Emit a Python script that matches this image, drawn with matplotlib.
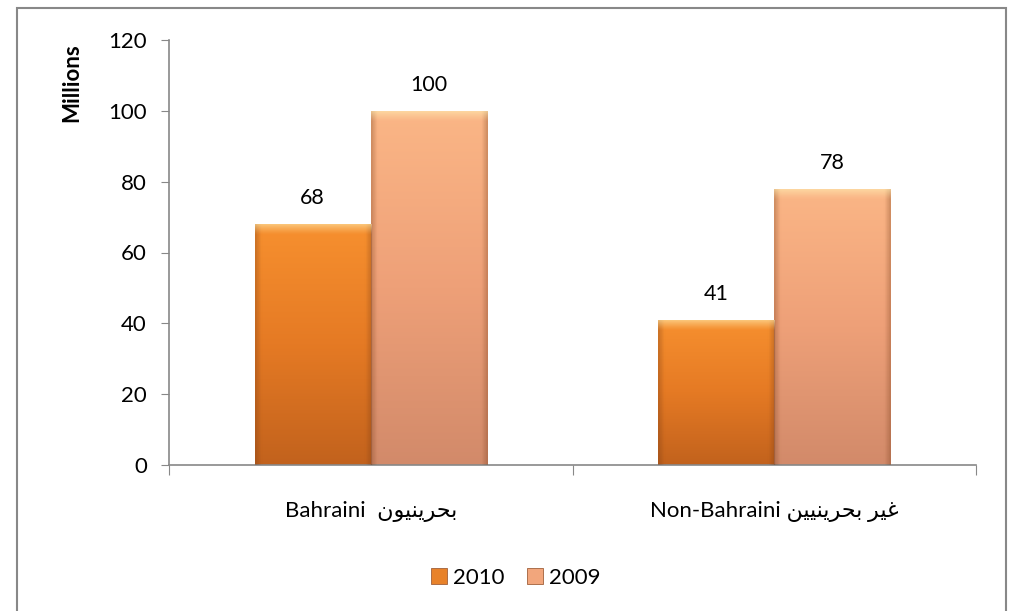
import numpy as np
import matplotlib.pyplot as plt
from matplotlib.patches import Rectangle
from matplotlib.colors import LinearSegmentedColormap

categories_en = ['Bahraini ', 'Non-Bahraini']
categories_ar = ['بحرينيون', 'غير بحرينيين']
years = ['2010', '2009']
values_2010 = [68, 41]
values_2009 = [100, 78]
yticks = [0, 20, 40, 60, 80, 100, 120]

# isolated, final, initial, medial presentation forms
FORMS = {
    'ب': ('\uFE8F', '\uFE90', '\uFE91', '\uFE92'),
    'ح': ('\uFEA1', '\uFEA2', '\uFEA3', '\uFEA4'),
    'ر': ('\uFEAD', '\uFEAE', None, None),
    'ي': ('\uFEF1', '\uFEF2', '\uFEF3', '\uFEF4'),
    'ن': ('\uFEE5', '\uFEE6', '\uFEE7', '\uFEE8'),
    'و': ('\uFEED', '\uFEEE', None, None),
    'غ': ('\uFECD', '\uFECE', '\uFECF', '\uFED0'),
}


def joins_left(c):
    return c in FORMS and FORMS[c][2] is not None


def shape(word):
    # tiny arabic shaper for the letters used here, returns visual (LTR) order
    out = []
    for i, c in enumerate(word):
        if c not in FORMS:
            out.append(c)
            continue
        prev = word[i - 1] if i > 0 else ' '
        nxt = word[i + 1] if i + 1 < len(word) else ' '
        r = joins_left(prev)
        l = joins_left(c) and nxt in FORMS
        if r and l:
            out.append(FORMS[c][3])
        elif r:
            out.append(FORMS[c][1])
        elif l:
            out.append(FORMS[c][2])
        else:
            out.append(FORMS[c][0])
    return ''.join(reversed(out))


fam = ['Lato', 'DejaVu Sans']
plt.rcParams['font.family'] = fam

fig = plt.figure(figsize=(10.22, 6.11), dpi=100)
ax = fig.add_axes([169 / 1022, 1 - 465 / 611, 807 / 1022, 425 / 611])

x = np.arange(len(categories_en))
w = 0.288
grad_2010 = LinearSegmentedColormap.from_list('g10', ['#c2621d', '#e57a24', '#f7902f'])
grad_2009 = LinearSegmentedColormap.from_list('g09', ['#d28a6a', '#eea078', '#fbb686'])

gy = np.linspace(0, 1, 256).reshape(-1, 1)
hl = np.zeros((32, 1, 4))
hl[..., :3] = [1.0, 0.95, 0.72]
hl[:, 0, 3] = np.linspace(0, 0.7, 32) ** 1.3

# darker sides to hint at the bevel
side = np.zeros((1, 64, 4))
side[..., :3] = [0.45, 0.22, 0.08]
edge = np.abs(np.linspace(-1, 1, 64))
side[0, :, 3] = np.clip((edge - 0.9) * 3.0, 0, 0.3)

for vals, off, cmap, col, yr in [(values_2010, -w / 2, grad_2010, '#e8822a', years[0]),
                                 (values_2009, w / 2, grad_2009, '#f2a67c', years[1])]:
    bars = ax.bar(x + off, vals, w, color=col, edgecolor='#a0603a', linewidth=0.6, label=yr, zorder=2)
    for b, v in zip(bars, vals):
        x0 = b.get_x()
        im = ax.imshow(gy, cmap=cmap, extent=(x0, x0 + w, 0, v), origin='lower',
                       aspect='auto', zorder=2.5)
        im.set_clip_path(b)
        ax.imshow(side, extent=(x0, x0 + w, 0, v), origin='lower', aspect='auto',
                  zorder=2.7).set_clip_path(b)
        # bevel highlight on top
        ax.imshow(hl, extent=(x0, x0 + w, v - 3.2, v), origin='lower', aspect='auto',
                  zorder=3).set_clip_path(b)
        ax.text(x0 + w / 2, v + 4.5, str(v), ha='center', va='bottom', fontsize=15.5, color='black')

ax.set_xlim(-0.5, 1.5)
ax.set_ylim(0, 120)
ax.set_yticks(yticks)
ax.tick_params(axis='y', direction='out', length=6, color='#888888', labelsize=16, pad=10)
ax.set_xticks([-0.5, 0.5, 1.5])
ax.set_xticklabels([])
ax.tick_params(axis='x', which='major', direction='out', length=7, color='#888888')
ax.set_xticks(x, minor=True)
ax.set_xticklabels([categories_en[0] + ' ' + shape(categories_ar[0]),
                    categories_en[1] + ' ' + shape(categories_ar[1])], minor=True)
ax.tick_params(axis='x', which='minor', length=0, labelsize=16, pad=26)

for s in ['top', 'right']:
    ax.spines[s].set_visible(False)
for s in ['left', 'bottom']:
    ax.spines[s].set_color('#888888')
    ax.spines[s].set_linewidth(1.2)
ax.set_xlim(-0.5, 1.5)

fig.text(72 / 1022, 1 - 83 / 611, 'Millions', rotation=90, ha='center', va='center',
         fontsize=16, fontweight='bold')

handles, labels = ax.get_legend_handles_labels()
fig.legend(handles, labels, loc='center', bbox_to_anchor=(516 / 1022, 1 - 578 / 611), ncol=2,
           frameon=False, fontsize=16, handlelength=0.7, handleheight=0.7, columnspacing=1.0,
           handletextpad=0.3)

fig.patches.append(Rectangle((17 / 1022, -0.05), (1006 - 17) / 1022, 1.05 - 8 / 611,
                             transform=fig.transFigure, fill=False, edgecolor='#888888', linewidth=1.5))

fig.savefig('out.png', dpi=100)
